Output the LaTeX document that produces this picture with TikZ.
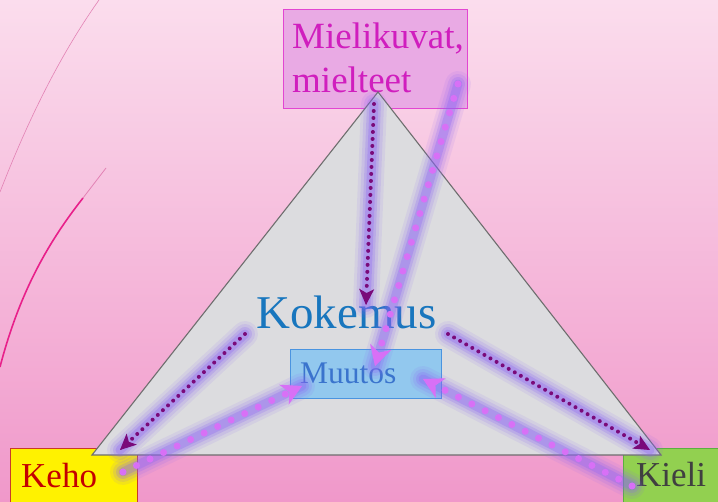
\documentclass[tikz,border=0pt]{standalone}
\usepackage{fontspec}
\setmainfont{Liberation Serif}
\usetikzlibrary{arrows.meta,calc}
\definecolor{bgtop}{RGB}{251,221,237}
\definecolor{bgbot}{RGB}{240,152,202}
\definecolor{arcthin}{RGB}{226,130,180}
\definecolor{arcpink}{RGB}{232,32,138}
\definecolor{trifill}{RGB}{220,220,223}
\definecolor{triedge}{RGB}{110,110,110}
\definecolor{mfill}{RGB}{233,170,228}
\definecolor{medge}{RGB}{226,70,210}
\definecolor{mtext}{RGB}{208,30,190}
\definecolor{kokc}{RGB}{24,118,190}
\definecolor{mufill}{RGB}{146,200,238}
\definecolor{muedge}{RGB}{74,148,224}
\definecolor{mutext}{RGB}{58,116,205}
\definecolor{kehoedge}{RGB}{200,60,40}
\definecolor{kehotext}{RGB}{196,0,0}
\definecolor{kielifill}{RGB}{146,208,80}
\definecolor{kieliedge}{RGB}{90,176,64}
\definecolor{kielitext}{RGB}{64,64,64}
\definecolor{glowc}{RGB}{140,100,245}
\definecolor{darkdot}{RGB}{122,10,122}
\definecolor{pinkdot}{RGB}{216,112,246}
\tikzset{
  box/.style={draw, line width=1pt, inner sep=0pt, anchor=north west},
  lbl/.style={inner sep=0pt, anchor=base west},
  glowA/.style={draw=glowc, line width=26pt, draw opacity=0.10, line cap=round},
  glowB/.style={draw=glowc, line width=20pt, draw opacity=0.15, line cap=round},
  glowC/.style={draw=glowc, line width=14pt, draw opacity=0.22, line cap=round},
  glowD/.style={draw=glowc, line width=9pt, draw opacity=0.30, line cap=round},
  darkdots/.style={draw=darkdot, line width=4pt, line cap=round,
    dash pattern=on 0pt off 7pt},
  pinkdots/.style={draw=pinkdot, line width=7pt, line cap=round,
    dash pattern=on 0pt off 15pt},
  darktip/.style={draw=darkdot, line width=1pt,
    -{Stealth[length=16pt,width=15pt,inset=4pt,fill=darkdot]}},
  pinktip/.style={draw=pinkdot, line width=1pt,
    -{Stealth[length=20pt,width=22pt,inset=6pt,fill=pinkdot]}},
}
\newcommand{\glowpath}[2]{%
  \draw[glowA] (#1) -- (#2);
  \draw[glowB] (#1) -- (#2);
  \draw[glowC] (#1) -- (#2);
  \draw[glowD] (#1) -- (#2);}
\newcommand{\darkarr}[2]{%
  \draw[darkdots] (#1) -- ($(#2)!14pt!(#1)$);
  \draw[darktip] ($(#2)!1pt!(#1)$) -- (#2);}
\newcommand{\pinkarr}[2]{%
  \draw[pinkdots] (#1) -- ($(#2)!18pt!(#1)$);
  \draw[pinktip] ($(#2)!1pt!(#1)$) -- (#2);}
\begin{document}
\begin{tikzpicture}[x=1pt,y=-1pt]
\useasboundingbox (0,0) rectangle (718,502);
% background
\fill[top color=bgtop, bottom color=bgbot] (0,0) rectangle (718,502);
% decorative arcs
\draw[arcthin, line width=0.6pt] (0,192) .. controls (28,120) and (60,55) .. (99,0);
\draw[arcpink, line width=1.6pt] (0,367) .. controls (20,290) and (50,240) .. (83,198);
\draw[arcthin, line width=0.8pt] (83,198) -- (106,168);
% corner boxes
\node[box, fill=yellow, draw=kehoedge, minimum width=127pt, minimum height=60pt] (kehobox) at (10,448) {};
\node[lbl, font=\fontsize{35}{40}\selectfont, text=kehotext] (keho) at (21,488) {Keho};
\node[box, fill=kielifill, draw=kieliedge, minimum width=100pt, minimum height=60pt] (kielibox) at (623,448) {};
\node[lbl, font=\fontsize{35}{40}\selectfont, text=kielitext] (kieli) at (636,487) {Kieli};
% top box
\node[box, fill=mfill, draw=medge, minimum width=184pt, minimum height=99pt] (mbox) at (283,9) {};
\node[lbl, font=\fontsize{37}{44}\selectfont, text=mtext] (mline1) at (292,49) {Mielikuvat,};
\node[lbl, font=\fontsize{37}{44}\selectfont, text=mtext] (mline2) at (292,93) {mielteet};
% triangle
\coordinate (tA) at (378,92);
\coordinate (tB) at (92,455);
\coordinate (tC) at (661,455);
\draw[fill=trifill, draw=triedge, line width=1.1pt, line join=miter] (tA) -- (tB) -- (tC) -- cycle;
% centre texts
\node[lbl, font=\fontsize{47}{52}\selectfont, text=kokc] (kokemus) at (256,329) {Kokemus};
\node[box, fill=mufill, draw=muedge, minimum width=151pt, minimum height=49pt] (mubox) at (290,349) {};
\node[lbl, font=\fontsize{31.5}{36}\selectfont, text=mutext] (muutos) at (300,384) {Muutos};
% arrow end points
\coordinate (d1s) at (374,104);
\coordinate (d1e) at (366,305);
\coordinate (d2s) at (245,334);
\coordinate (d2e) at (120,450);
\coordinate (d3s) at (448,334);
\coordinate (d3e) at (650,450);
\coordinate (p1s) at (458,84);
\coordinate (p1e) at (375,366);
\coordinate (p2s) at (123,472);
\coordinate (p2e) at (302,386);
\coordinate (p3s) at (632,486);
\coordinate (p3e) at (423,379);
% glows
\glowpath{d1s}{d1e}
\glowpath{d2s}{d2e}
\glowpath{d3s}{d3e}
\glowpath{p1s}{p1e}
\glowpath{p2s}{p2e}
\glowpath{p3s}{p3e}
% arrows
\darkarr{d1s}{d1e}
\darkarr{d2s}{d2e}
\darkarr{d3s}{d3e}
\pinkarr{p1s}{p1e}
\pinkarr{p2s}{p2e}
\pinkarr{p3s}{p3e}
\end{tikzpicture}
\end{document}
